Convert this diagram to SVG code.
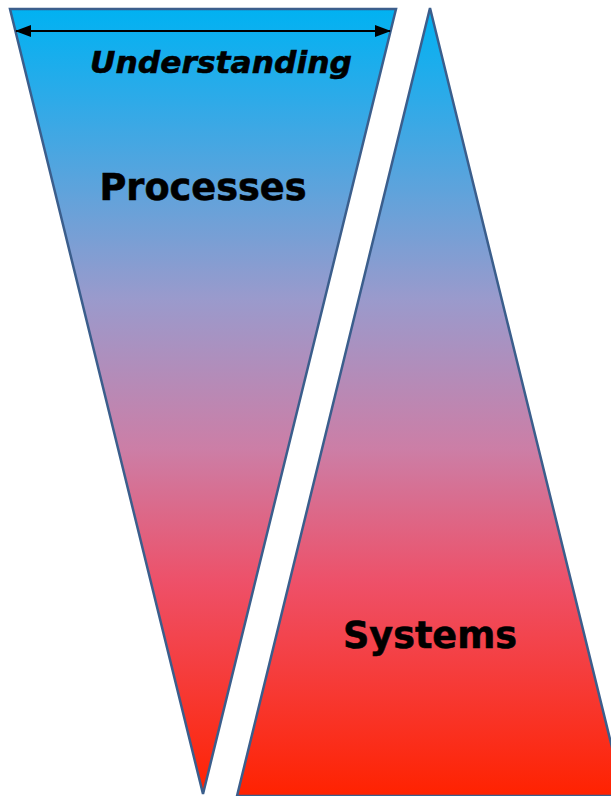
<svg xmlns="http://www.w3.org/2000/svg" width="611" height="796" viewBox="0 0 611 796">
  <defs>
    <!-- shared vertical fill: cyan at the top, through lilac, to red at the bottom -->
    <linearGradient id="fade" gradientUnits="userSpaceOnUse" x1="0" y1="8" x2="0" y2="796">
      <stop offset="0" stop-color="#00B2F2"/>
      <stop offset="0.12" stop-color="#2FAAE8"/>
      <stop offset="0.37" stop-color="#9A9ACC"/>
      <stop offset="0.56" stop-color="#CC7EA6"/>
      <stop offset="0.73" stop-color="#EE5068"/>
      <stop offset="1" stop-color="#FF2200"/>
    </linearGradient>
    <marker id="head" viewBox="0 0 16 12" refX="15" refY="6" markerWidth="16" markerHeight="12" markerUnits="userSpaceOnUse" orient="auto-start-reverse">
      <path d="M0,0 L16,6 L0,12 Z" fill="#000"/>
    </marker>
  </defs>
  <style>
    .wedge { fill: url(#fade); stroke: #3B5E8C; stroke-width: 2.5; stroke-linejoin: miter; }
    .label { font-family: "DejaVu Sans", Verdana, sans-serif; font-weight: bold; fill: #000; stroke: #000; stroke-width: 0.6; text-anchor: middle; }
  </style>

  <g id="processes">
    <polygon class="wedge" points="10,9 396,9 203,794"/>
    <text class="label" x="203" y="200" font-size="38" textLength="207" lengthAdjust="spacingAndGlyphs">Processes</text>
  </g>

  <g id="systems">
    <polygon class="wedge" points="430,8 624,796 237,796"/>
    <text class="label" x="430" y="648" font-size="38" textLength="174" lengthAdjust="spacingAndGlyphs">Systems</text>
  </g>

  <g id="understanding">
    <text class="label" x="221" y="73" font-size="31" font-style="italic" textLength="262" lengthAdjust="spacingAndGlyphs">Understanding</text>
  </g>

  <g id="connectors">
    <line x1="16" y1="31" x2="390" y2="31" stroke="#000" stroke-width="2" marker-start="url(#head)" marker-end="url(#head)"/>
  </g>
</svg>
